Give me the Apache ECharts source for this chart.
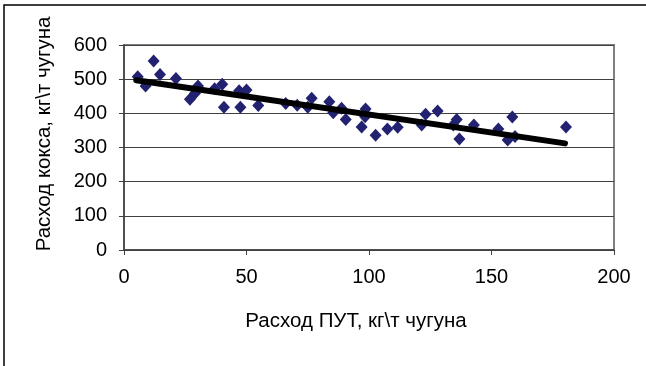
<!DOCTYPE html>
<html>
<head>
<meta charset="utf-8">
<script src="https://cdn.jsdelivr.net/npm/echarts@6/dist/echarts.min.js"></script>
<style>
  html, body { margin: 0; padding: 0; background: #fff; }
  #chart { width: 646px; height: 366px; }
</style>
</head>
<body>
<div id="chart"></div>
<script>
// Расход ПУТ (pulverised coal) vs. coke rate, kg per tonne of pig iron
var putRate = [5.6, 8.8, 12.1, 14.7, 21.2, 26.9, 29.0, 30.2, 37.0, 40.1,
               40.8, 47.0, 47.5, 50.0, 54.8, 66.0, 70.7, 75.0, 76.6, 83.8,
               85.4, 88.8, 90.5, 97.0, 98.4, 98.6, 102.7, 107.5, 111.7, 121.5,
               123.1, 128.0, 134.4, 135.8, 136.9, 142.8, 152.8, 156.6, 158.5, 159.6,
               180.4];
var cokeRate = [507, 480, 553, 514, 502, 441, 459, 480, 472, 485,
                418, 466, 418, 468, 423, 429, 424, 418, 444, 434,
                402, 415, 382, 360, 390, 413, 336, 354, 359, 366,
                397, 407, 366, 382, 325, 366, 354, 322, 389, 332,
                360];

// Linear trend endpoints
var trendX = [5, 180];
var trendY = [497, 312];

var xTicks = [0, 50, 100, 150, 200];
var yTicks = [0, 100, 200, 300, 400, 500, 600];

var xTitle = 'Расход ПУТ, кг\\т чугуна';
var yTitle = 'Расход кокса, кг\\т чугуна';

var points = putRate.map(function (x, i) { return [x, cokeRate[i]]; });
var trend = trendX.map(function (x, i) { return [x, trendY[i]]; });

var font = '"Liberation Sans", Arial, sans-serif';
var chart = echarts.init(document.getElementById('chart'), null, { renderer: 'canvas' });

chart.setOption({
  animation: false,
  backgroundColor: '#ffffff',
  grid: {
    left: 124, top: 45, right: 32, bottom: 116,
    show: true, borderColor: '#808080', borderWidth: 2, backgroundColor: 'transparent'
  },
  xAxis: {
    type: 'value',
    min: xTicks[0], max: xTicks[xTicks.length - 1], interval: 50,
    axisLine: { show: true, onZero: false, lineStyle: { color: '#404040', width: 1.5 } },
    axisTick: { show: true, inside: false, length: 5, lineStyle: { color: '#404040' } },
    axisLabel: { color: '#000', fontFamily: font, fontSize: 20, margin: 17 },
    splitLine: { show: false }
  },
  yAxis: {
    type: 'value',
    min: yTicks[0], max: yTicks[yTicks.length - 1], interval: 100,
    axisLine: { show: true, lineStyle: { color: '#404040', width: 1.5 } },
    axisTick: { show: true, inside: false, length: 5, lineStyle: { color: '#404040' } },
    axisLabel: { color: '#000', fontFamily: font, fontSize: 20, margin: 17 },
    splitLine: { show: true, lineStyle: { color: '#404040', width: 1 } }
  },
  graphic: [
    {
      type: 'rect', silent: true, z: 100,
      shape: { x: 4, y: 5, width: 1000, height: 1000 },
      style: { fill: 'none', stroke: '#000', lineWidth: 1.5 }
    },
    {
      type: 'text', silent: true,
      x: 356, y: 321,
      style: { text: xTitle, font: '20.5px ' + font, fill: '#000', textAlign: 'center', textVerticalAlign: 'middle' }
    },
    {
      type: 'text', silent: true,
      x: 44, y: 134, rotation: Math.PI / 2,
      style: { text: yTitle, font: '20.5px ' + font, fill: '#000', textAlign: 'center', textVerticalAlign: 'middle' }
    }
  ],
  series: [
    {
      type: 'scatter',
      data: points,
      symbol: 'diamond',
      symbolSize: [12, 13],
      itemStyle: { color: '#222270', opacity: 1 },
      z: 2
    },
    {
      type: 'line',
      data: trend,
      symbol: 'none',
      lineStyle: { color: '#000', width: 6, cap: 'round' },
      z: 3
    }
  ]
});
</script>
</body>
</html>
